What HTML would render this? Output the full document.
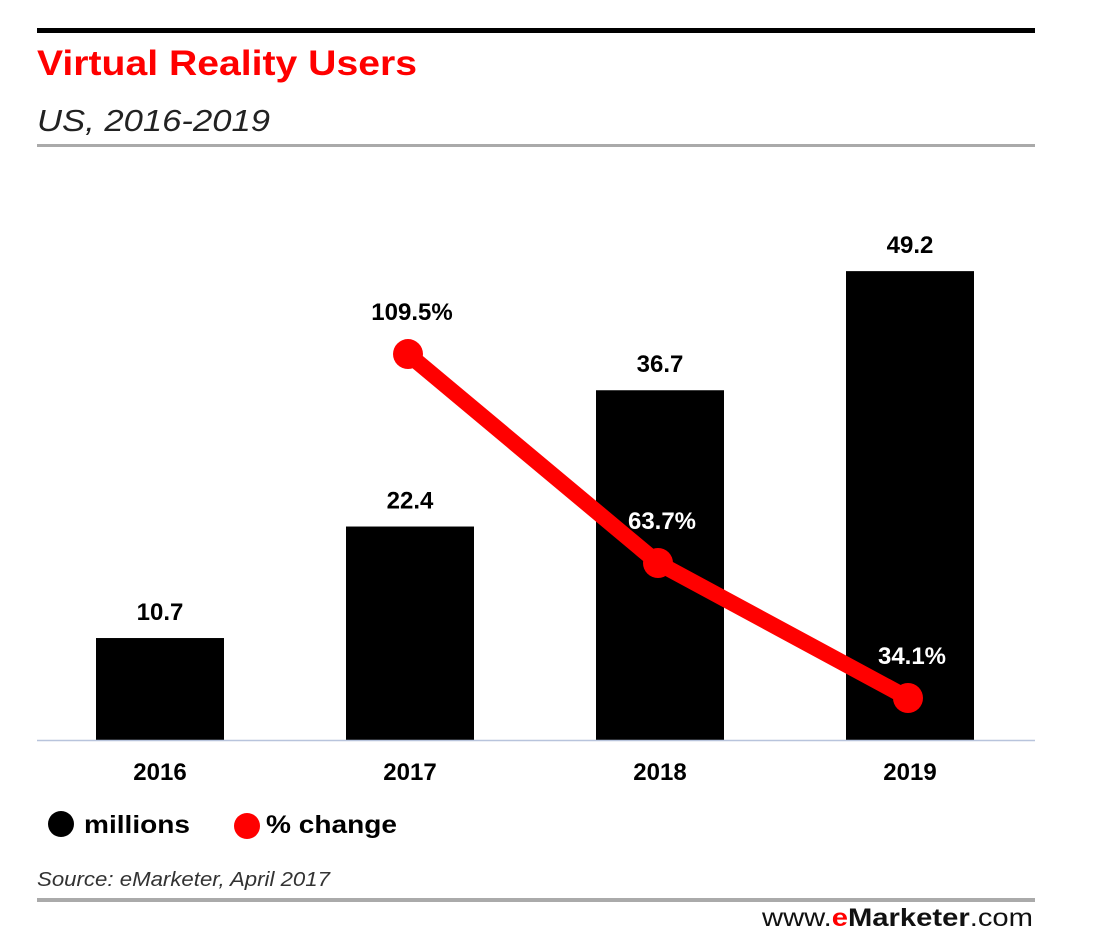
<!DOCTYPE html>
<html><head><meta charset="utf-8"><style>
html,body{margin:0;padding:0;background:#fff;width:1096px;height:940px;overflow:hidden}
svg{display:block;font-family:"Liberation Sans",sans-serif}
</style></head><body>
<svg id="chart" width="1096" height="940">
<rect x="37" y="28" width="998" height="5" fill="#000"/>
<text x="37" y="75" font-size="35" font-weight="bold" fill="#ff0000" textLength="380" lengthAdjust="spacingAndGlyphs">Virtual Reality Users</text>
<text x="37" y="131" font-size="31" font-style="italic" fill="#222" textLength="233" lengthAdjust="spacingAndGlyphs">US, 2016-2019</text>
<rect x="37" y="144" width="998" height="3" fill="#aaa"/>
<g id="bars"></g>
<line x1="37" y1="740.5" x2="1035" y2="740.5" stroke="#b8c4dc" stroke-width="1.5"/>
<g id="line"></g>
<g id="xlabels"></g>
<circle cx="61" cy="824" r="13" fill="#000"/>
<text x="84" y="833" font-size="25" font-weight="bold" textLength="106" lengthAdjust="spacingAndGlyphs">millions</text>
<circle cx="247" cy="826" r="13" fill="#ff0000"/>
<text x="266" y="833" font-size="25" font-weight="bold" textLength="131" lengthAdjust="spacingAndGlyphs">% change</text>
<text x="37" y="886" font-size="20" font-style="italic" fill="#333" textLength="293" lengthAdjust="spacingAndGlyphs">Source: eMarketer, April 2017</text>
<rect x="37" y="898" width="998" height="4" fill="#aaa"/>
<text x="762" y="926" font-size="25" fill="#111" textLength="271" lengthAdjust="spacingAndGlyphs">www.<tspan fill="#ff0000" font-weight="bold">e</tspan><tspan font-weight="bold">Marketer</tspan>.com</text>
</svg>
<script>
const years = ["2016","2017","2018","2019"];
const users = [10.7, 22.4, 36.7, 49.2];
const userLabels = ["10.7","22.4","36.7","49.2"];
const pctChange = [null, 109.5, 63.7, 34.1];
const pctLabels = ["", "109.5%", "63.7%", "34.1%"];

const NS = "http://www.w3.org/2000/svg";
const base = 740, bw = 128;
function xc(i){ return 160 + i*250; }
function yUsers(v){ return base - v*9.53; }
function yPct(v){ return 853.6 - v*4.562; }
function mk(tag, attrs, parent){ const e=document.createElementNS(NS,tag); for(const k in attrs) e.setAttribute(k,attrs[k]); parent.appendChild(e); return e; }

const gb=document.getElementById('bars'), gl=document.getElementById('line'), gx=document.getElementById('xlabels');
users.forEach((v,i)=>{
  const r=mk('rect',{x:xc(i)-bw/2,y:yUsers(v),width:bw,height:base-yUsers(v),fill:'#000'},gb);
  
  
  const t=mk('text',{x:xc(i),y:yUsers(v)-18,'font-size':24,'font-weight':'bold','text-anchor':'middle'},gb);
  t.textContent=userLabels[i];
  
  
  const xl=mk('text',{x:xc(i),y:780,'font-size':24,'font-weight':'bold','text-anchor':'middle'},gx);
  xl.textContent=years[i];
  
  
});
const pts=[]; pctChange.forEach((v,i)=>{ if(v!==null) pts.push([xc(i)-2,yPct(v),i]); });
const pl=mk('polyline',{points:pts.map(p=>p[0]+','+p[1]).join(' '),fill:'none',stroke:'#ff0000','stroke-width':16,'stroke-linejoin':'round'},gl);


pts.forEach(p=>{
  const c=mk('circle',{cx:p[0],cy:p[1],r:15,fill:'#ff0000'},gl);
  
  
  const t=mk('text',{x:p[0]+4,y:p[1]-34,'font-size':24,'font-weight':'bold','text-anchor':'middle',fill:p[2]===1?'#000':'#fff'},gl);
  t.textContent=pctLabels[p[2]];
  
  
});
</script>
</body></html>
